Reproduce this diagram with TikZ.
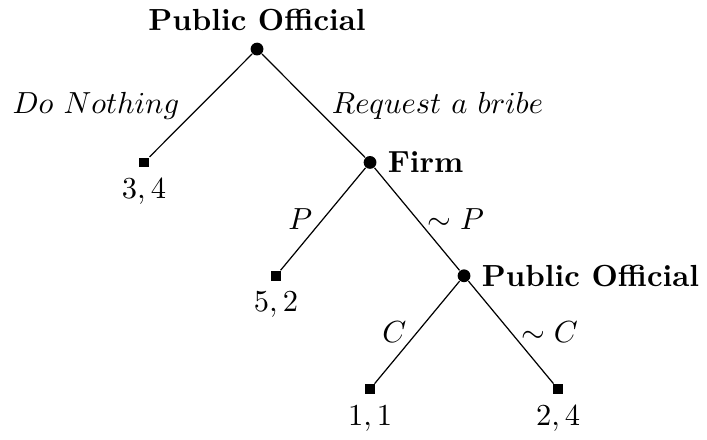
\documentclass[tikz,border=0pt]{standalone}
\begin{document}
\begin{tikzpicture}[
        choice/.style={circle, fill=black, inner sep=0pt, minimum size=4.2pt},
        payoff/.style={rectangle, fill=black, inner sep=0pt, minimum size=3.2pt},
    ]
            \useasboundingbox (-2.961,0.565) rectangle (5.184,-4.493);

            % decision nodes
            \node[choice, label=above:{\textbf{Public Official}}] (po1) at (0, 0) {};
            \node[choice, label=right:{\textbf{Firm}}] (firm) at (1.302, -1.306) {};
            \node[choice, label=right:{\textbf{Public Official}}] (po2) at (2.385, -2.612) {};

            % end points with payoffs
            \node[payoff, label=below:{$3,4$}] (nothing) at (-1.302, -1.306) {};
            \node[payoff, label=below:{$5,2$}] (pay) at (0.219, -2.612) {};
            \node[payoff, label=below:{$1,1$}] (catch) at (1.302, -3.918) {};
            \node[payoff, label=below:{$2,4$}] (nocatch) at (3.468, -3.918) {};

            \draw (po1) -- (nothing) node[midway, left=3.5pt] {$Do\ Nothing$};
            \draw (po1) -- (firm) node[midway, right=2.5pt] {$Request\ a\ bribe$};
            \draw (firm) -- (pay) node[midway, left] {$P$};
            \draw (firm) -- (po2) node[midway, right] {$\sim P$};
            \draw (po2) -- (catch) node[midway, left] {$C$};
            \draw (po2) -- (nocatch) node[midway, right] {$\sim C$};
        \end{tikzpicture}
\end{document}
